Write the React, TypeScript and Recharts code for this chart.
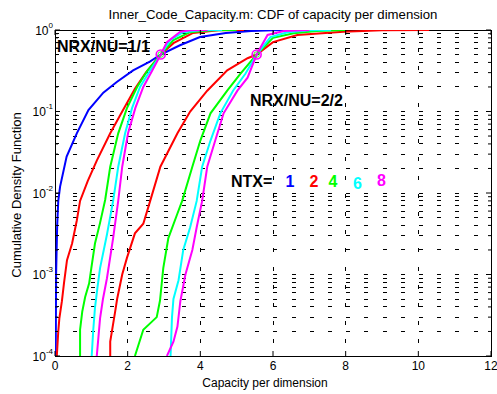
import React from 'react';
import { LineChart, Line, XAxis, YAxis, CartesianGrid, ReferenceDot } from 'recharts';

// ---------- layout constants ----------
const W = 497;
const H = 394;
const PLOT_LEFT = 55;
const PLOT_TOP = 30;
const PLOT_W = 436;
const PLOT_H = 326;
const FONT = '"Liberation Sans", Arial, Helvetica, sans-serif';

// ---------- axes ----------
const xTicks = [0, 2, 4, 6, 8, 10, 12];
const yDecades = [1e-4, 1e-3, 1e-2, 1e-1];
const yMultipliers = [1, 2, 3, 4, 5, 6, 7, 8, 9];
const yTicks: number[] = [...yDecades.flatMap((d) => yMultipliers.map((m) => m * d)), 1];

// ---------- colours per NTX ----------
const ntxLabels = ['1', '2', '4', '6', '8'];
const ntxColors = ['#0000FF', '#FF0000', '#00FF00', '#00FFFF', '#FF00FF'];

type P = { x: number; y: number };

// ---------- NRX/NU = 1/1 ----------
const g1_ntx1: P[] = [
  { x: 0.02, y: 1e-4 }, { x: 0.03, y: 1e-3 }, { x: 0.06, y: 4e-3 }, { x: 0.09, y: 8e-3 },
  { x: 0.14, y: 0.012 }, { x: 0.32, y: 0.028 }, { x: 0.6, y: 0.054 }, { x: 0.92, y: 0.104 },
  { x: 1.33, y: 0.17 }, { x: 1.7, y: 0.23 }, { x: 2.15, y: 0.32 }, { x: 2.61, y: 0.41 },
  { x: 2.91, y: 0.5 }, { x: 3.44, y: 0.65 }, { x: 3.99, y: 0.82 }, { x: 4.7, y: 0.92 },
  { x: 5.4, y: 0.97 }, { x: 6.0, y: 0.995 }, { x: 6.6, y: 1 },
];
const g1_ntx2: P[] = [
  { x: 0.05, y: 1e-4 }, { x: 0.09, y: 2e-4 }, { x: 0.12, y: 2.9e-4 }, { x: 0.19, y: 4.7e-4 },
  { x: 0.25, y: 8e-4 }, { x: 0.33, y: 1.5e-3 }, { x: 0.47, y: 2.4e-3 }, { x: 0.6, y: 4.6e-3 },
  { x: 0.69, y: 8e-3 }, { x: 0.9, y: 0.014 }, { x: 1.15, y: 0.025 }, { x: 1.52, y: 0.054 },
  { x: 1.85, y: 0.1 }, { x: 2.2, y: 0.19 }, { x: 2.5, y: 0.3 }, { x: 2.91, y: 0.5 },
  { x: 3.26, y: 0.69 }, { x: 3.8, y: 0.92 }, { x: 4.5, y: 0.99 }, { x: 5.2, y: 1 },
];
const g1_ntx4: P[] = [
  { x: 0.69, y: 1e-4 }, { x: 0.69, y: 2.1e-4 }, { x: 0.75, y: 3.5e-4 }, { x: 0.83, y: 5.3e-4 },
  { x: 0.94, y: 7.8e-4 }, { x: 1.0, y: 1.2e-3 }, { x: 1.1, y: 2.4e-3 }, { x: 1.24, y: 4.3e-3 },
  { x: 1.38, y: 8.2e-3 }, { x: 1.52, y: 0.021 }, { x: 1.74, y: 0.054 }, { x: 1.98, y: 0.11 },
  { x: 2.26, y: 0.2 }, { x: 2.55, y: 0.32 }, { x: 2.91, y: 0.5 }, { x: 3.26, y: 0.75 },
  { x: 3.72, y: 0.94 }, { x: 4.3, y: 0.99 }, { x: 5.0, y: 1 },
];
const g1_ntx6: P[] = [
  { x: 1.01, y: 1e-4 }, { x: 1.05, y: 2e-4 }, { x: 1.1, y: 3.9e-4 }, { x: 1.17, y: 7e-4 },
  { x: 1.24, y: 1.2e-3 }, { x: 1.43, y: 3.1e-3 }, { x: 1.6, y: 8e-3 }, { x: 1.74, y: 0.021 },
  { x: 1.93, y: 0.054 }, { x: 2.12, y: 0.11 }, { x: 2.34, y: 0.2 }, { x: 2.62, y: 0.32 },
  { x: 2.91, y: 0.5 }, { x: 3.17, y: 0.75 }, { x: 3.53, y: 0.94 }, { x: 4.0, y: 0.99 },
  { x: 4.6, y: 1 },
];
const g1_ntx8: P[] = [
  { x: 1.15, y: 1e-4 }, { x: 1.24, y: 2.9e-4 }, { x: 1.32, y: 5e-4 }, { x: 1.43, y: 9e-4 },
  { x: 1.6, y: 2.8e-3 }, { x: 1.74, y: 8e-3 }, { x: 1.85, y: 0.021 }, { x: 2.01, y: 0.054 },
  { x: 2.21, y: 0.11 }, { x: 2.43, y: 0.2 }, { x: 2.68, y: 0.32 }, { x: 2.91, y: 0.5 },
  { x: 3.08, y: 0.71 }, { x: 3.45, y: 0.95 }, { x: 3.72, y: 0.99 }, { x: 4.2, y: 1 },
];

// ---------- NRX/NU = 2/2 ----------
const g2_ntx2: P[] = [
  { x: 1.52, y: 1e-4 }, { x: 1.52, y: 1.5e-4 }, { x: 1.66, y: 3.6e-4 }, { x: 1.71, y: 5e-4 },
  { x: 1.85, y: 1e-3 }, { x: 1.98, y: 1.6e-3 }, { x: 2.2, y: 3.2e-3 }, { x: 2.43, y: 4.2e-3 },
  { x: 2.62, y: 8e-3 }, { x: 2.9, y: 0.021 }, { x: 3.37, y: 0.054 }, { x: 3.72, y: 0.1 },
  { x: 4.19, y: 0.18 }, { x: 4.74, y: 0.32 }, { x: 5.3, y: 0.45 }, { x: 5.55, y: 0.5 },
  { x: 6.0, y: 0.71 }, { x: 6.67, y: 0.87 }, { x: 7.94, y: 0.95 }, { x: 9.0, y: 0.99 },
  { x: 10.3, y: 1 },
];
const g2_ntx4: P[] = [
  { x: 2.2, y: 1e-4 }, { x: 2.43, y: 2.1e-4 }, { x: 2.8, y: 3e-4 }, { x: 2.89, y: 4.8e-4 },
  { x: 2.98, y: 1.2e-3 }, { x: 3.12, y: 2.8e-3 }, { x: 3.37, y: 5.6e-3 }, { x: 3.5, y: 8e-3 },
  { x: 3.78, y: 0.021 }, { x: 4.0, y: 0.044 }, { x: 4.28, y: 0.095 }, { x: 4.74, y: 0.18 },
  { x: 5.1, y: 0.29 }, { x: 5.55, y: 0.5 }, { x: 6.0, y: 0.8 }, { x: 6.57, y: 0.91 },
  { x: 7.2, y: 0.97 }, { x: 8.0, y: 1 },
];
const g2_ntx6: P[] = [
  { x: 3.18, y: 1e-4 }, { x: 3.22, y: 3e-4 }, { x: 3.26, y: 5e-4 }, { x: 3.4, y: 8.5e-4 },
  { x: 3.53, y: 2e-3 }, { x: 3.72, y: 3.8e-3 }, { x: 3.9, y: 8e-3 }, { x: 4.05, y: 0.021 },
  { x: 4.28, y: 0.044 }, { x: 4.55, y: 0.095 }, { x: 4.9, y: 0.18 }, { x: 5.24, y: 0.29 },
  { x: 5.55, y: 0.5 }, { x: 5.93, y: 0.82 }, { x: 6.4, y: 0.94 }, { x: 7.0, y: 0.99 },
  { x: 7.6, y: 1 },
];
const g2_ntx8: P[] = [
  { x: 3.08, y: 1e-4 }, { x: 3.26, y: 1.5e-4 }, { x: 3.37, y: 2.3e-4 }, { x: 3.45, y: 4.7e-4 },
  { x: 3.59, y: 1e-3 }, { x: 3.78, y: 2e-3 }, { x: 3.9, y: 3.8e-3 }, { x: 4.05, y: 8e-3 },
  { x: 4.19, y: 0.021 }, { x: 4.41, y: 0.044 }, { x: 4.64, y: 0.095 }, { x: 5.02, y: 0.18 },
  { x: 5.3, y: 0.26 }, { x: 5.55, y: 0.5 }, { x: 5.85, y: 0.87 }, { x: 6.3, y: 0.97 },
  { x: 7.0, y: 1 },
];

const series: { key: string; data: P[]; color: string }[] = [
  { key: 'g1_1', data: g1_ntx1, color: ntxColors[0] },
  { key: 'g1_2', data: g1_ntx2, color: ntxColors[1] },
  { key: 'g1_4', data: g1_ntx4, color: ntxColors[2] },
  { key: 'g1_6', data: g1_ntx6, color: ntxColors[3] },
  { key: 'g1_8', data: g1_ntx8, color: ntxColors[4] },
  { key: 'g2_2', data: g2_ntx2, color: ntxColors[1] },
  { key: 'g2_4', data: g2_ntx4, color: ntxColors[2] },
  { key: 'g2_6', data: g2_ntx6, color: ntxColors[3] },
  { key: 'g2_8', data: g2_ntx8, color: ntxColors[4] },
];

// crossing markers
const crossPoints: P[] = [
  { x: 2.91, y: 0.5 },
  { x: 5.55, y: 0.5 },
];

const isDecade = (v: number) => {
  const e = Math.log10(v);
  return Math.abs(e - Math.round(e)) < 1e-6;
};

const YTick = (props: any) => {
  const { y, payload } = props;
  const v = payload.value as number;
  const major = isDecade(v);
  const len = major ? 5 : 3;
  const e = Math.round(Math.log10(v));
  return (
    <g>
      <line x1={PLOT_LEFT} x2={PLOT_LEFT + len} y1={y} y2={y} stroke="#000" strokeWidth={1} />
      <line x1={PLOT_LEFT + PLOT_W} x2={PLOT_LEFT + PLOT_W - len} y1={y} y2={y} stroke="#000" strokeWidth={1} />
      {major && (
        <text x={PLOT_LEFT - 2} y={y + 4.5} textAnchor="end" fontSize={12} fill="#000" fontFamily={FONT}>
          <tspan>10</tspan>
          <tspan dy={-7} fontSize={8}>{String(e)}</tspan>
        </text>
      )}
    </g>
  );
};

const XTick = (props: any) => {
  const { x, payload } = props;
  const bottom = PLOT_TOP + PLOT_H;
  return (
    <g>
      <line x1={x} x2={x} y1={bottom} y2={bottom - 5} stroke="#000" strokeWidth={1} />
      <line x1={x} x2={x} y1={PLOT_TOP} y2={PLOT_TOP + 5} stroke="#000" strokeWidth={1} />
      <text x={x} y={bottom + 14} textAnchor="middle" fontSize={12} fill="#000" fontFamily={FONT}>
        {String(payload.value)}
      </text>
    </g>
  );
};

const ntxX = [290, 314, 333, 357.5, 381.5];
const ntxY = [187, 187, 187, 188.5, 185.5];

export default function App() {
  return (
    <div style={{ position: 'absolute', left: 0, top: 0, width: W, height: H, background: '#fff' }}>
      <svg width={W} height={H} style={{ position: 'absolute', left: 0, top: 0 }}>
        <rect x={PLOT_LEFT} y={PLOT_TOP} width={PLOT_W} height={PLOT_H} fill="#fff" stroke="#000" strokeWidth={1} shapeRendering="crispEdges" />
      </svg>
      <div style={{ position: 'absolute', left: 0, top: 0 }}>
        <LineChart width={W} height={H} margin={{ top: PLOT_TOP, right: W - PLOT_LEFT - PLOT_W, left: 0, bottom: 0 }}>
          <CartesianGrid stroke="#000" strokeWidth={1} strokeDasharray="4 14.2" shapeRendering="crispEdges" />
          <XAxis
            type="number"
            dataKey="x"
            domain={[0, 12]}
            ticks={xTicks}
            interval={0}
            allowDataOverflow
            axisLine={false}
            tickLine={false}
            tickSize={0}
            tickMargin={0}
            height={H - PLOT_TOP - PLOT_H}
            tick={<XTick />}
          />
          <YAxis
            type="number"
            scale="log"
            domain={[1e-4, 1]}
            ticks={yTicks}
            interval={0}
            allowDataOverflow
            axisLine={false}
            tickLine={false}
            tickSize={0}
            tickMargin={0}
            width={PLOT_LEFT}
            tick={<YTick />}
          />
          {series.map((s) => (
            <Line
              key={s.key}
              data={s.data}
              dataKey="y"
              type="linear"
              stroke={s.color}
              strokeWidth={2}
              dot={false}
              activeDot={false}
              isAnimationActive={false}
            />
          ))}
          {crossPoints.map((p, i) => (
            <ReferenceDot key={'o' + i} x={p.x} y={p.y} r={4.5} fill="none" stroke="#FF00FF" strokeWidth={1.6} />
          ))}
          {crossPoints.map((p, i) => (
            <ReferenceDot key={'i' + i} x={p.x} y={p.y} r={2.8} fill="none" stroke="#00FF00" strokeWidth={0.8} />
          ))}
        </LineChart>
      </div>
      <svg width={W} height={H} style={{ position: 'absolute', left: 0, top: 0, pointerEvents: 'none' }}>
        <text x={273} y={18.5} textAnchor="middle" fontSize={13.2} fontFamily={FONT} fill="#000">
          Inner_Code_Capacity.m: CDF of capacity per dimension
        </text>
        <text x={265} y={387} textAnchor="middle" fontSize={12} fontFamily={FONT} fill="#000">
          Capacity per dimension
        </text>
        <text x={21} y={195} textAnchor="middle" fontSize={13} fontFamily={FONT} fill="#000" transform="rotate(-90 21 195)">
          Cumulative Density Function
        </text>
        <text x={57} y={52} fontSize={16} fontWeight="bold" fontFamily={FONT} fill="#000">NRX/NU=1/1</text>
        <text x={250} y={106} fontSize={16} fontWeight="bold" fontFamily={FONT} fill="#000">NRX/NU=2/2</text>
        <text x={231} y={187} fontSize={16} fontWeight="bold" fontFamily={FONT} fill="#000">NTX=</text>
        {ntxLabels.map((t, i) => (
          <text key={t} x={ntxX[i]} y={ntxY[i]} textAnchor="middle" fontSize={16} fontWeight="bold" fontFamily={FONT} fill={ntxColors[i]}>
            {t}
          </text>
        ))}
      </svg>
    </div>
  );
}
